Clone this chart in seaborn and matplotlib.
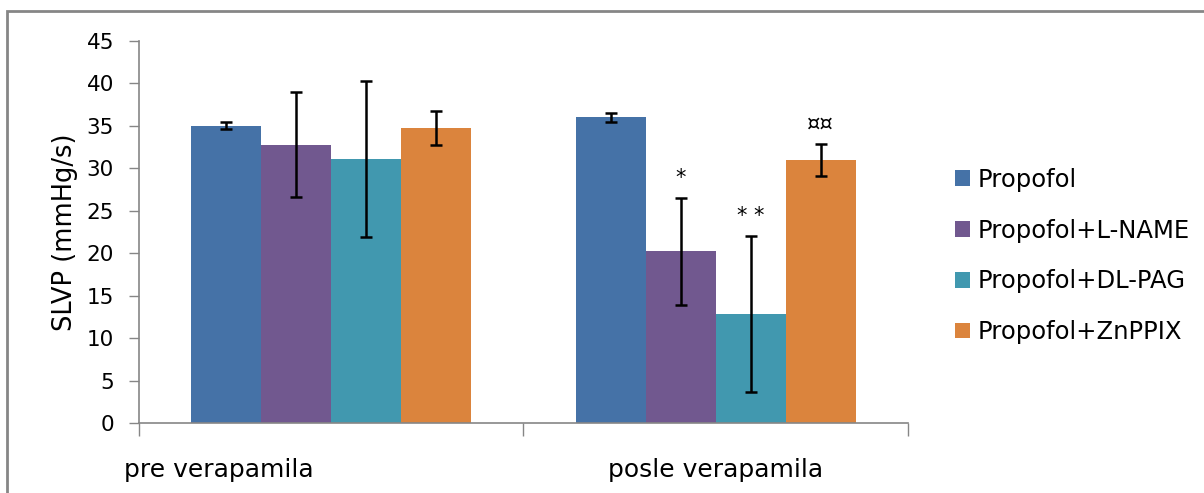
import pandas as pd
import seaborn as sns
import matplotlib.pyplot as plt
import matplotlib.transforms as mtransforms
from matplotlib.patches import Rectangle

groups = ['pre verapamila', 'posle verapamila']
treatments = ['Propofol', 'Propofol+L-NAME', 'Propofol+DL-PAG', 'Propofol+ZnPPIX']
pre_vals = [35.0, 32.8, 31.1, 34.8]
post_vals = [36.0, 20.2, 12.8, 31.0]
pre_err = [0.4, 6.2, 9.2, 2.0]
post_err = [0.5, 6.3, 9.2, 1.9]
post_marks = ['', '*', '* *', '¤¤']
colors = ['#4572A7', '#71588F', '#4198AF', '#DB843D']

rows = []
for i, t in enumerate(treatments):
    rows.append({'grupa': groups[0], 'tretman': t, 'SLVP': pre_vals[i], 'sd': pre_err[i]})
    rows.append({'grupa': groups[1], 'tretman': t, 'SLVP': post_vals[i], 'sd': post_err[i]})
df = pd.DataFrame(rows)

sns.set_style('white')
plt.rcParams['font.family'] = ['DejaVu Sans']
plt.rcParams['text.color'] = 'black'
plt.rcParams['xtick.color'] = 'black'
plt.rcParams['ytick.color'] = 'black'
plt.rcParams['axes.labelcolor'] = 'black'

fig = plt.figure(figsize=(12.04, 4.93), dpi=100)
ax = fig.add_axes([0.1155, 0.142, 0.6385, 0.775])

sns.barplot(data=df, x='grupa', y='SLVP', hue='tretman', order=groups, hue_order=treatments,
            palette=colors, saturation=1, width=0.728, errorbar=None, ax=ax, linewidth=0)

bar_sets = list(ax.containers)
for i, cont in enumerate(bar_sets):
    errs = [pre_err[i], post_err[i]]
    for j, bar in enumerate(cont):
        cx = bar.get_x() + bar.get_width() / 2
        h = bar.get_height()
        ax.errorbar(cx, h, yerr=errs[j], fmt='none', ecolor='black', elinewidth=1.8,
                    capsize=4, capthick=1.8)
        if j == 1 and post_marks[i]:
            ax.annotate(post_marks[i], (cx, h + errs[j]), xytext=(0, 7), textcoords='offset points',
                        ha='center', va='bottom', fontsize=15)

ax.set_ylim(0, 45)
ax.set_xlim(-0.5, 1.5)
ax.set_yticks(range(0, 46, 5))
ax.tick_params(axis='y', labelsize=15.5, length=7, width=1, color='#868686', labelcolor='black',
               direction='out', left=True, pad=11)
ax.set_xticks([-0.5, 0.5, 1.5], minor=True)
ax.tick_params(axis='x', which='minor', length=9, width=1, color='#868686', direction='out', bottom=True)
ax.tick_params(axis='x', which='major', length=0, labelsize=18, labelcolor='black', pad=25)
ax.set_xlabel('')
ax.set_ylabel('SLVP (mmHg/s)', fontsize=18.5, labelpad=6)

# first category label sits left of its group, as in the original sheet
first = ax.get_xticklabels()[0]
first.set_transform(first.get_transform() + mtransforms.ScaledTranslation(-1.12, 0, fig.dpi_scale_trans))

for s in ['top', 'right']:
    ax.spines[s].set_visible(False)
for s in ['left', 'bottom']:
    ax.spines[s].set_color('#868686')
    ax.spines[s].set_linewidth(1.2)

handles, labels = ax.get_legend_handles_labels()
ax.get_legend().remove()
fig.legend(handles, labels, loc='center left', bbox_to_anchor=(955 / 1204, 1 - 256 / 493), frameon=False,
           fontsize=17.5, handlelength=0.62, handleheight=0.62, handletextpad=0.33, labelspacing=1.1,
           borderpad=0, borderaxespad=0)

fig.patches.append(Rectangle((7 / 1204, -0.1), 1.2, 1 - 11 / 493 + 0.1, transform=fig.transFigure,
                             fill=False, edgecolor='#868686', linewidth=2))

fig.savefig('out.png', dpi=100)
